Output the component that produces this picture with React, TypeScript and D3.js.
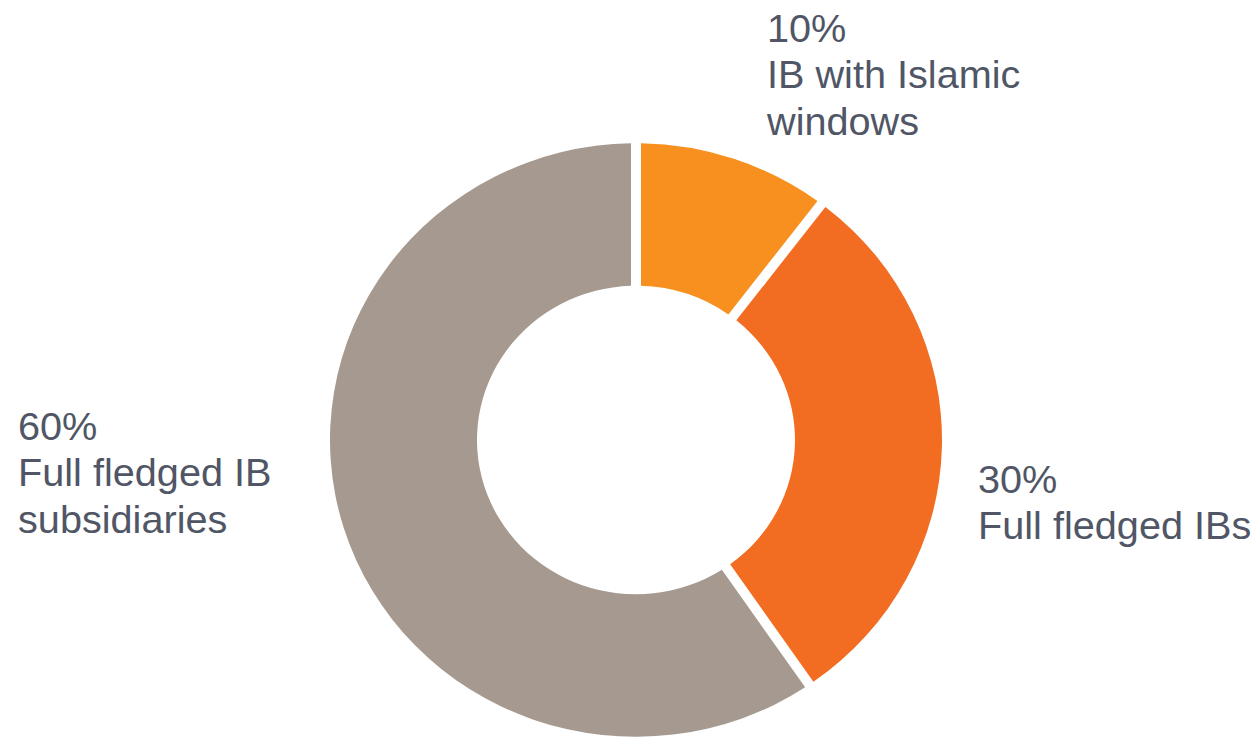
import React from "react";
import * as d3 from "d3";

const categories = ["IB with Islamic windows", "Full fledged IBs", "Full fledged IB subsidiaries"];
const values = [10, 30, 60];
const labelLines = [
  ["IB with Islamic", "windows"],
  ["Full fledged IBs"],
  ["Full fledged IB", "subsidiaries"],
];
const colors = ["#F7901E", "#F26C22", "#A69A90"];

// layout (styles)
const W = 1259;
const H = 739;
const CX = 636;
const CY = 440;
const R_OUT = 306;
const R_IN = 159;
const Y_SCALE = 0.97;
const GAP = 10;
const labelAnchors = [
  { x: 767, y: 42 },
  { x: 978, y: 493 },
  { x: 18, y: 440 },
];
const LINE_H = 46.5;
const TEXT_X_STRETCH = 1.03;

export default function App() {
  const total = d3.sum(values);
  const pie = d3
    .pie<number>()
    .sort(null)
    .value((d) => d)
    .padAngle(GAP / R_OUT);
  const arcs = pie(values);
  const arc = d3
    .arc<d3.PieArcDatum<number>>()
    .innerRadius(R_IN)
    .outerRadius(R_OUT)
    .padRadius(R_OUT);
  const fmt = d3.format(".0%");

  return (
    <svg
      width={W}
      height={H}
      style={{ position: "absolute", left: 0, top: 0, background: "#fff" }}
      fontFamily="'Liberation Sans', Arial, sans-serif"
    >
      <g transform={`translate(${CX},${CY}) scale(1,${Y_SCALE})`}>
        {arcs.map((a, i) => (
          <path key={categories[i]} d={arc(a) || ""} fill={colors[i]} />
        ))}
      </g>
      {arcs.map((a, i) => {
        const pos = labelAnchors[i];
        const lines = [fmt(values[i] / total), ...labelLines[i]];
        return (
          <g key={"l" + i} transform={`translate(${pos.x},${pos.y}) scale(${TEXT_X_STRETCH},1)`}>
            <text x={0} y={0} fontSize={38.5} fill="#505665">
              {lines.map((t, j) => (
                <tspan key={j} x={0} y={j * LINE_H}>
                  {t}
                </tspan>
              ))}
            </text>
          </g>
        );
      })}
    </svg>
  );
}
